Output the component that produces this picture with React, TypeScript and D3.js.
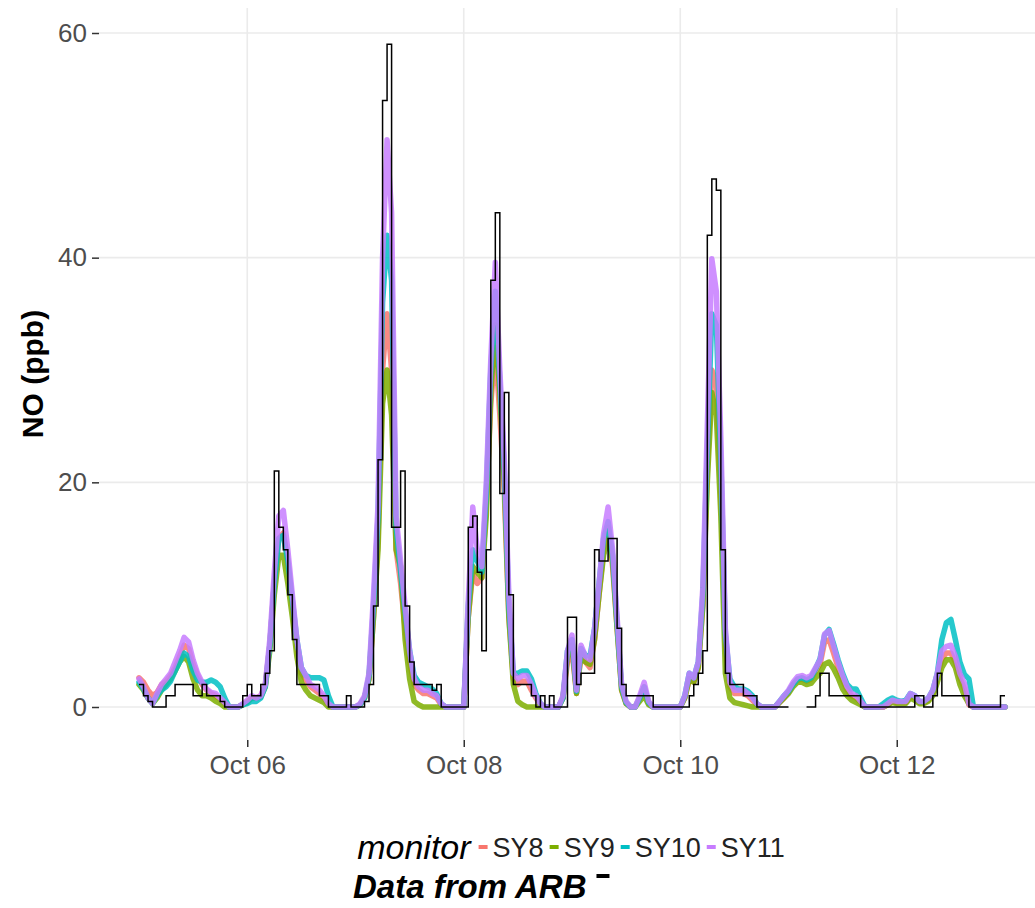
import * as d3 from "d3";
import React from "react";

// hourly readings, Oct 05 00:00 -> Oct 13 00:00 (193 points each)
const START = Date.UTC(2015, 9, 5);
const HOUR = 3600 * 1000;

const monitors = ["SY8", "SY9", "SY10", "SY11"];
const monitorColors = ["#F8766D", "#7CAE00", "#00BFC4", "#C77CFF"];

const sy8 = [
  2.6, 2.2, 1.5, 1, 1.3, 2, 2.3, 2.8, 3.5, 4.5, 5.5, 5.2, 3.8, 2.8, 2, 1.5, 1.2, 1, 0.7, 0.3, 0, 0, 0, 0.2,
  0.5, 0.8, 0.8, 1, 2, 5.5, 11, 15, 15.5, 13, 9, 5.5, 3, 2.4, 1.8, 1.5, 1.2, 0.8, 0.2, 0, 0, 0, 0, 0,
  0, 0.2, 0.8, 2.5, 8, 15, 30, 35, 30, 14, 11, 7, 4, 2, 1.5, 1.2, 1.2, 1, 0.8, 0.2, 0, 0, 0, 0,
  0, 8, 12, 11, 11.5, 18, 27, 32, 26, 19, 8, 2.5, 2, 2.3, 2.3, 1.5, 0.8, 0.2, 0, 0, 0, 0, 0.8, 4,
  5, 1.2, 4.5, 4, 3.5, 6, 10, 14, 16, 12.5, 7, 1.5, 0.3, 0, 0, 0.8, 1.8, 0.3, 0, 0, 0, 0, 0, 0,
  0, 0.8, 2.5, 2.2, 3.5, 9, 21, 30, 29, 19, 5.5, 1.8, 1.2, 1.2, 1.2, 1, 0.6, 0.2, 0, 0, 0, 0, 0.4, 0.8,
  1.3, 2, 2.4, 2.5, 2.3, 2.5, 3.2, 3.8, 5.8, 6, 4.8, 3.5, 2.4, 1.5, 1, 0.8, 0.4, 0, 0, 0, 0, 0, 0.2, 0.5,
  0.4, 0.4, 0.4, 1, 0.8, 0.4, 0.4, 0.6, 1.2, 2.6, 4.3, 4.8, 4.8, 4, 2.6, 1.6, 0.2, 0, 0, 0, 0, 0, 0, 0,
  0,
];

const sy9 = [
  2, 1.5, 0.8, 0.3, 0.8, 1.5, 2, 2.5, 3.2, 4, 4.5, 4, 2.5, 1.5, 1, 1, 0.8, 0.5, 0.3, 0, 0, 0, 0, 0.2,
  0.4, 0.8, 0.8, 0.9, 1.8, 5, 10, 13.5, 13.5, 11, 8, 4.5, 2.2, 1.5, 1, 0.8, 0.6, 0.4, 0, 0, 0, 0, 0, 0,
  0, 0.2, 0.8, 2.5, 8, 14, 27, 30, 26, 14, 12.5, 6, 2.5, 0.5, 0.2, 0, 0, 0, 0, 0, 0, 0, 0, 0,
  0, 8, 12.5, 12, 11.5, 17, 28, 34, 28, 20, 8, 2, 0.5, 0.2, 0, 0, 0, 0, 0, 0, 0, 0, 0.8, 4.5,
  5.5, 1.2, 4.8, 4, 3.8, 6, 10, 13.5, 15, 13, 7, 1.5, 0.3, 0, 0, 0.5, 1, 0.2, 0, 0, 0, 0, 0, 0,
  0, 0.8, 2.5, 2.2, 3.5, 9, 20, 28, 26, 17, 3, 0.8, 0.4, 0.3, 0.2, 0.1, 0, 0, 0, 0, 0, 0, 0.4, 0.8,
  1.2, 1.8, 2.2, 2.2, 2, 2.1, 2.6, 3, 3.8, 4, 3.4, 2.6, 1.6, 1, 0.6, 0.4, 0.2, 0, 0, 0, 0, 0, 0.2, 0.4,
  0.3, 0.3, 0.3, 0.8, 0.6, 0.3, 0.3, 0.5, 1, 2.2, 3.5, 4.2, 4.2, 3.5, 2, 1, 0.3, 0, 0, 0, 0, 0, 0, 0,
  0,
];

const sy10 = [
  2.2, 1.6, 0.8, 0.3, 1, 1.5, 1.8, 2.3, 3.2, 4, 4.8, 4.5, 3.2, 2.4, 2.2, 2.2, 2.4, 2.2, 1.8, 0.8, 0, 0, 0, 0.2,
  0.3, 0.5, 0.5, 0.8, 1.8, 5.5, 11, 15, 15.3, 13, 9.5, 6, 3.5, 2.8, 2.6, 2.6, 2.6, 2.4, 1, 0, 0, 0, 0, 0,
  0, 0.2, 0.8, 2.8, 9, 17, 36, 42, 38, 16, 12, 8.5, 5, 2.8, 2.2, 2, 1.8, 1.6, 1.2, 0.3, 0, 0, 0, 0,
  0, 9, 14, 13, 12, 19, 30, 37, 29, 21, 9, 3, 3, 3.2, 3.2, 2.5, 1.2, 0.3, 0, 0, 0, 0, 0.8, 5,
  6, 1.4, 5.2, 4.6, 4.5, 7, 11, 15, 16.5, 13.5, 7.5, 1.8, 0.4, 0, 0, 0.8, 1.8, 0.4, 0, 0, 0, 0, 0, 0,
  0, 1, 3, 2.6, 4, 10, 23, 35, 34, 22, 6.5, 2.5, 1.8, 1.6, 1.6, 1.4, 1, 0.3, 0, 0, 0, 0, 0.5, 1,
  1.4, 2, 2.5, 2.6, 2.4, 2.6, 3.4, 4.3, 6.4, 6.9, 5.6, 4.2, 3, 2, 1.6, 1.6, 0.8, 0, 0, 0, 0, 0.3, 0.6, 0.8,
  0.6, 0.5, 0.6, 1.2, 1, 0.5, 0.5, 0.8, 1.5, 3, 6, 7.5, 7.8, 6, 4, 2.9, 2.5, 0, 0, 0, 0, 0, 0, 0,
  0,
];

const sy11 = [
  2.5, 1.8, 0.8, 0.3, 1.2, 2, 2.5, 3, 4, 5, 6.2, 5.8, 4.2, 3, 2.2, 1.6, 1.3, 1.2, 0.8, 0.4, 0, 0, 0, 0.3,
  0.6, 1, 0.8, 1, 2, 6, 12, 17, 17.5, 14, 10, 6, 3.5, 2.8, 2, 1.8, 1.5, 1, 0.3, 0, 0, 0, 0, 0,
  0, 0.3, 1, 3, 10, 18, 40, 50.5, 44, 17, 13, 9, 5, 2.5, 1.8, 1.5, 1.5, 1.2, 1, 0.3, 0, 0, 0, 0,
  0, 9.5, 17.8, 14, 12.5, 20, 31, 39.6, 30, 22, 10, 3, 2.5, 2.8, 2.8, 2, 1, 0.3, 0, 0, 0, 0, 1, 5,
  6.4, 1.5, 5.5, 4.5, 4.2, 7, 11, 15.4, 17.8, 14, 8, 2, 0.5, 0, 0, 1, 2.2, 0.5, 0, 0, 0, 0, 0, 0,
  0, 1, 3, 2.6, 4, 10.6, 25, 39.9, 37, 24, 7, 2.2, 1.5, 1.5, 1.5, 1.2, 0.8, 0.3, 0, 0, 0, 0, 0.5, 1,
  1.5, 2.2, 2.7, 2.8, 2.6, 2.8, 3.5, 4.2, 6.5, 6.8, 5.4, 4, 2.8, 1.8, 1.2, 1, 0.5, 0, 0, 0, 0, 0, 0.3, 0.6,
  0.5, 0.5, 0.5, 1.2, 1, 0.5, 0.5, 0.8, 1.5, 3, 5, 5.4, 5.5, 4.5, 3, 2.1, 0.3, 0, 0, 0, 0, 0, 0, 0,
  0,
];

// ARB reference monitor (null = missing hour)
const arb: (number | null)[] = [
  2, 1, 0.5, 0, 0, 0, 1, 1, 2, 2, 2, 2, 1, 1, 2, 1, 1, 1, 0.5, 0, 0, 0, 0, 1,
  2, 1, 1, 2, 3, 5, 21, 16, 14, 10, 6, 2, 2, 2, 2, 2, 1, 1, 0, 0, 0, 0, 1, 0,
  0, 0, 0.5, 2, 9, 22, 54, 59, 16, 16, 21, 9, 4, 2, 2, 2, 2, 1.5, 2, 0, 0, 0, 0, 0,
  0, 16, 17, 12, 5, 14, 38, 44, 19, 28, 10, 2, 2, 2, 2, 1, 0, 1, 0, 1, 0, 0, 0, 8,
  8, 2, 3, 3, 3, 14, 13, 13, 15, 15, 7, 2, 1, 1, 1, 1, 1, 1, 0, 0, 0, 0, 0, 0,
  0, 0, 1, 2, 3, 5, 42, 47, 46, 14, 3, 2, 2, 2, 1, 1, 1, 0, 0, 0, 0, 0, 0, 0,
  0, null, null, null, 0, 0, 1, 3, 3, 1, 1, 1, 1, 1, 1, 1, 0, 0, 0, 0, 0, 0, 0, 0,
  0, 0, 0, 0, 1, 1, 0, 0, 1, 3, 1, 1, 1, 1, 1, 1, 0, 0, 0, 0, 0, 0, 0, 1,
  1,
];

const yTicks = [0, 20, 40, 60];
const xTicks = ["2015-10-06", "2015-10-08", "2015-10-10", "2015-10-12"];

const FONT = "'Liberation Sans', Arial, Helvetica, sans-serif";

export default function App() {
  const svgRef = React.useRef<SVGSVGElement>(null);
  const width = 1035;
  const height = 908;
  const panel = { left: 99, right: 1048, top: 8, bottom: 740 };

  React.useEffect(() => {
    document.body.style.margin = "0";
    const svg = d3.select(svgRef.current);
    svg.selectAll("*").remove();

    const x = d3
      .scaleUtc()
      .domain([new Date(START), new Date(START + 192 * HOUR)])
      .range([139, 1005]);
    const y = d3.scaleLinear().domain([0, 60]).range([707, 33]);
    const xTickDates = xTicks.map((d) => new Date(d + "T00:00:00Z"));

    svg.append("rect").attr("width", width).attr("height", height).attr("fill", "#fff");

    // grid
    svg
      .append("g")
      .selectAll("line")
      .data(yTicks)
      .join("line")
      .attr("x1", panel.left)
      .attr("x2", panel.right)
      .attr("y1", (d) => y(d))
      .attr("y2", (d) => y(d))
      .attr("stroke", "#ebebeb")
      .attr("stroke-width", 1.6);
    svg
      .append("g")
      .selectAll("line")
      .data(xTickDates)
      .join("line")
      .attr("x1", (d) => x(d))
      .attr("x2", (d) => x(d))
      .attr("y1", panel.top)
      .attr("y2", panel.bottom)
      .attr("stroke", "#ebebeb")
      .attr("stroke-width", 1.6);

    // axes
    const yAxis = svg
      .append("g")
      .attr("transform", `translate(${panel.left},0)`)
      .call(d3.axisLeft(y).tickValues(yTicks).tickSize(7).tickPadding(5));
    const xAxis = svg
      .append("g")
      .attr("transform", `translate(0,${panel.bottom})`)
      .call(
        d3
          .axisBottom(x)
          .tickValues(xTickDates)
          .tickFormat((d) => d3.utcFormat("%b %d")(d as Date))
          .tickSize(7)
          .tickPadding(9)
      );
    [yAxis, xAxis].forEach((g) => {
      g.select(".domain").remove();
      g.attr("font-family", FONT).attr("font-size", 26);
      g.selectAll(".tick line").attr("stroke", "#333").attr("stroke-width", 1.5);
      g.selectAll(".tick text").attr("fill", "#4d4d4d");
    });

    // series
    const clipId = "panel-clip";
    svg
      .append("clipPath")
      .attr("id", clipId)
      .append("rect")
      .attr("x", panel.left)
      .attr("y", panel.top)
      .attr("width", panel.right - panel.left)
      .attr("height", panel.bottom - panel.top);
    const plot = svg.append("g").attr("clip-path", `url(#${clipId})`);

    const line = d3
      .line<number | null>()
      .defined((d) => d != null)
      .x((_, i) => x(new Date(START + i * HOUR)))
      .y((d) => y(d as number));

    [sy8, sy9, sy10, sy11].forEach((s, i) => {
      plot
        .append("path")
        .attr("d", line.curve(d3.curveLinear)(s))
        .attr("fill", "none")
        .attr("stroke", monitorColors[i])
        .attr("stroke-opacity", 0.85)
        .attr("stroke-width", 5.5)
        .attr("stroke-linejoin", "round")
        .attr("stroke-linecap", "round");
    });

    plot
      .append("path")
      .attr("d", line.curve(d3.curveStepAfter)(arb))
      .attr("fill", "none")
      .attr("stroke", "#000")
      .attr("stroke-width", 1.5);

    // y title
    svg
      .append("text")
      .attr("transform", `translate(43,${(panel.top + panel.bottom) / 2}) rotate(-90)`)
      .attr("text-anchor", "middle")
      .attr("font-family", FONT)
      .attr("font-weight", "bold")
      .attr("font-size", 30)
      .text("NO (ppb)");

    // legend
    const leg = svg.append("g").attr("font-family", FONT);
    const title = leg
      .append("text")
      .attr("y", 859)
      .attr("font-style", "italic")
      .attr("font-size", 34)
      .text("monitor");
    let cx = (title.node() as SVGTextElement).getComputedTextLength() + 8;
    monitors.forEach((m, i) => {
      leg
        .append("line")
        .attr("x1", cx)
        .attr("x2", cx + 9)
        .attr("y1", 847)
        .attr("y2", 847)
        .attr("stroke", monitorColors[i])
        .attr("stroke-width", 4);
      cx += 14;
      const t = leg.append("text").attr("x", cx).attr("y", 857).attr("font-size", 27).attr("fill", "#222").text(m);
      cx += (t.node() as SVGTextElement).getComputedTextLength() + 6;
    });
    const legWidth = cx - 6;
    leg.attr("transform", `translate(${571 - legWidth / 2},0)`);

    const src = svg
      .append("text")
      .attr("x", 353)
      .attr("y", 898)
      .attr("font-family", FONT)
      .attr("font-style", "italic")
      .attr("font-weight", "bold")
      .attr("font-size", 33)
      .text("Data from ARB");
    const srcEnd = 353 + (src.node() as SVGTextElement).getComputedTextLength();
    svg
      .append("line")
      .attr("x1", srcEnd + 10)
      .attr("x2", srcEnd + 23)
      .attr("y1", 876)
      .attr("y2", 876)
      .attr("stroke", "#000")
      .attr("stroke-width", 4);
  }, []);

  return (
    <svg
      ref={svgRef}
      width={width}
      height={height}
      viewBox={`0 0 ${width} ${height}`}
      style={{ display: "block" }}
    ></svg>
  );
}
